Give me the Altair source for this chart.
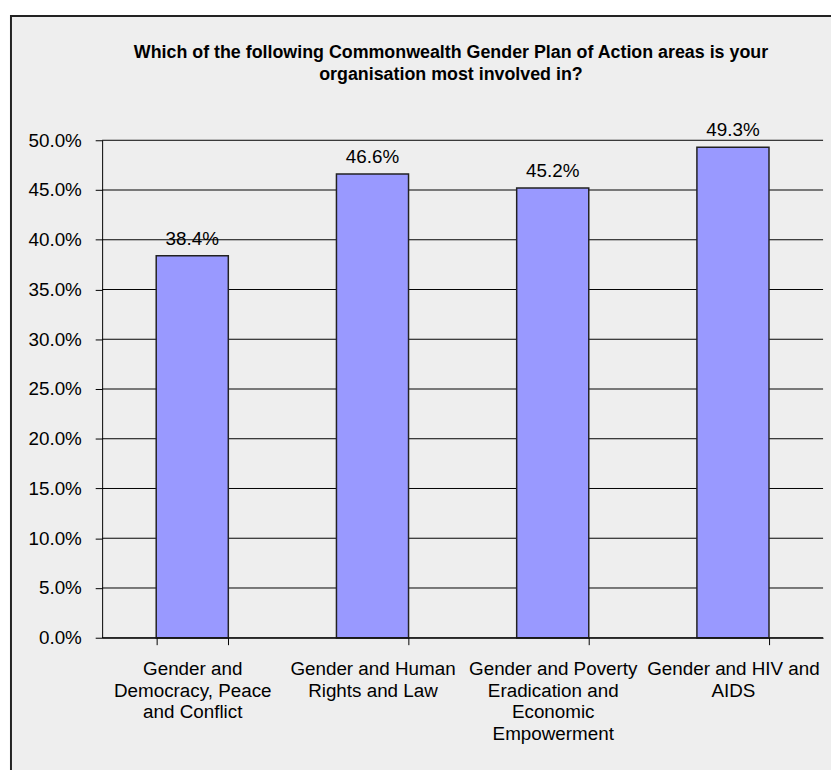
import altair as alt
import pandas as pd

categories = [
    "Gender and|Democracy, Peace|and Conflict",
    "Gender and Human|Rights and Law",
    "Gender and Poverty|Eradication and|Economic|Empowerment",
    "Gender and HIV and|AIDS",
]
values = [0.384, 0.466, 0.452, 0.493]
y_ticks = [0.0, 0.05, 0.10, 0.15, 0.20, 0.25, 0.30, 0.35, 0.40, 0.45, 0.50]
title_lines = [
    "Which of the following Commonwealth Gender Plan of Action areas is your",
    "organisation most involved in?",
]

FONT = "Liberation Sans"
df = pd.DataFrame({"cat": categories, "val": values})
grid_df = pd.DataFrame({"t": y_ticks})

x_scale = alt.Scale(paddingInner=0.6, paddingOuter=0.3)
y_scale = alt.Scale(domain=[0, 0.5], nice=False)

one = pd.DataFrame({"a": [0]})

frame = alt.Chart(one).mark_rect(
    fill="#EEEEEE", stroke="#222222", strokeWidth=2
).encode(
    x=alt.value(-92), x2=alt.value(760),
    y=alt.value(-125.5), y2=alt.value(700),
)

title = alt.Chart(one).mark_text(
    font=FONT, fontSize=18, fontWeight="bold", color="#000000",
    align="center", baseline="alphabetic", lineHeight=22,
).encode(
    x=alt.value(352), y=alt.value(-83),
    text=alt.value(title_lines),
)

grid = alt.Chart(grid_df).mark_rule(color="#000000", strokeWidth=1).encode(
    y=alt.Y("t:Q", scale=y_scale),
    x=alt.value(0), x2=alt.value(727.5),
)

bars = alt.Chart(df).mark_bar(
    color="#9999FF", stroke="#222222", strokeWidth=1.5
).encode(
    x=alt.X("cat:N", sort=categories, scale=x_scale,
            axis=alt.Axis(
                title=None, labelAngle=0, tickBand="extent", grid=False,
                labelExpr="split(datum.label, '|')",
                labelFont=FONT, labelFontSize=19, labelColor="#000000",
                labelLineHeight=22, labelPadding=15, labelBaseline="top",
                labelLimit=0,
                domainColor="#000000", domainWidth=1,
                tickColor="#000000", tickSize=7, tickWidth=1,
                zindex=1,
            )),
    y=alt.Y("val:Q", scale=y_scale,
            axis=alt.Axis(
                title=None, values=y_ticks, format=".1%", grid=False,
                labelFont=FONT, labelFontSize=19, labelColor="#000000",
                labelPadding=14,
                domainColor="#000000", domainWidth=1,
                tickColor="#000000", tickSize=7, tickWidth=1,
                zindex=1,
            )),
)

labels = alt.Chart(df).mark_text(
    font=FONT, fontSize=19, color="#000000", baseline="alphabetic", dy=-11
).encode(
    x=alt.X("cat:N", sort=categories, scale=x_scale),
    y=alt.Y("val:Q", scale=y_scale),
    text=alt.Text("val:Q", format=".1%"),
)

chart = alt.layer(frame, title, grid, bars, labels).properties(
    width=727.5,
    height=502,
    autosize=alt.AutoSizeParams(type="none"),
    padding={"left": 95, "top": 130, "right": 8, "bottom": 130},
    background="#FFFFFF",
).configure_view(stroke=None)

chart.save("out.html", embed_options={"renderer": "svg", "actions": False})
